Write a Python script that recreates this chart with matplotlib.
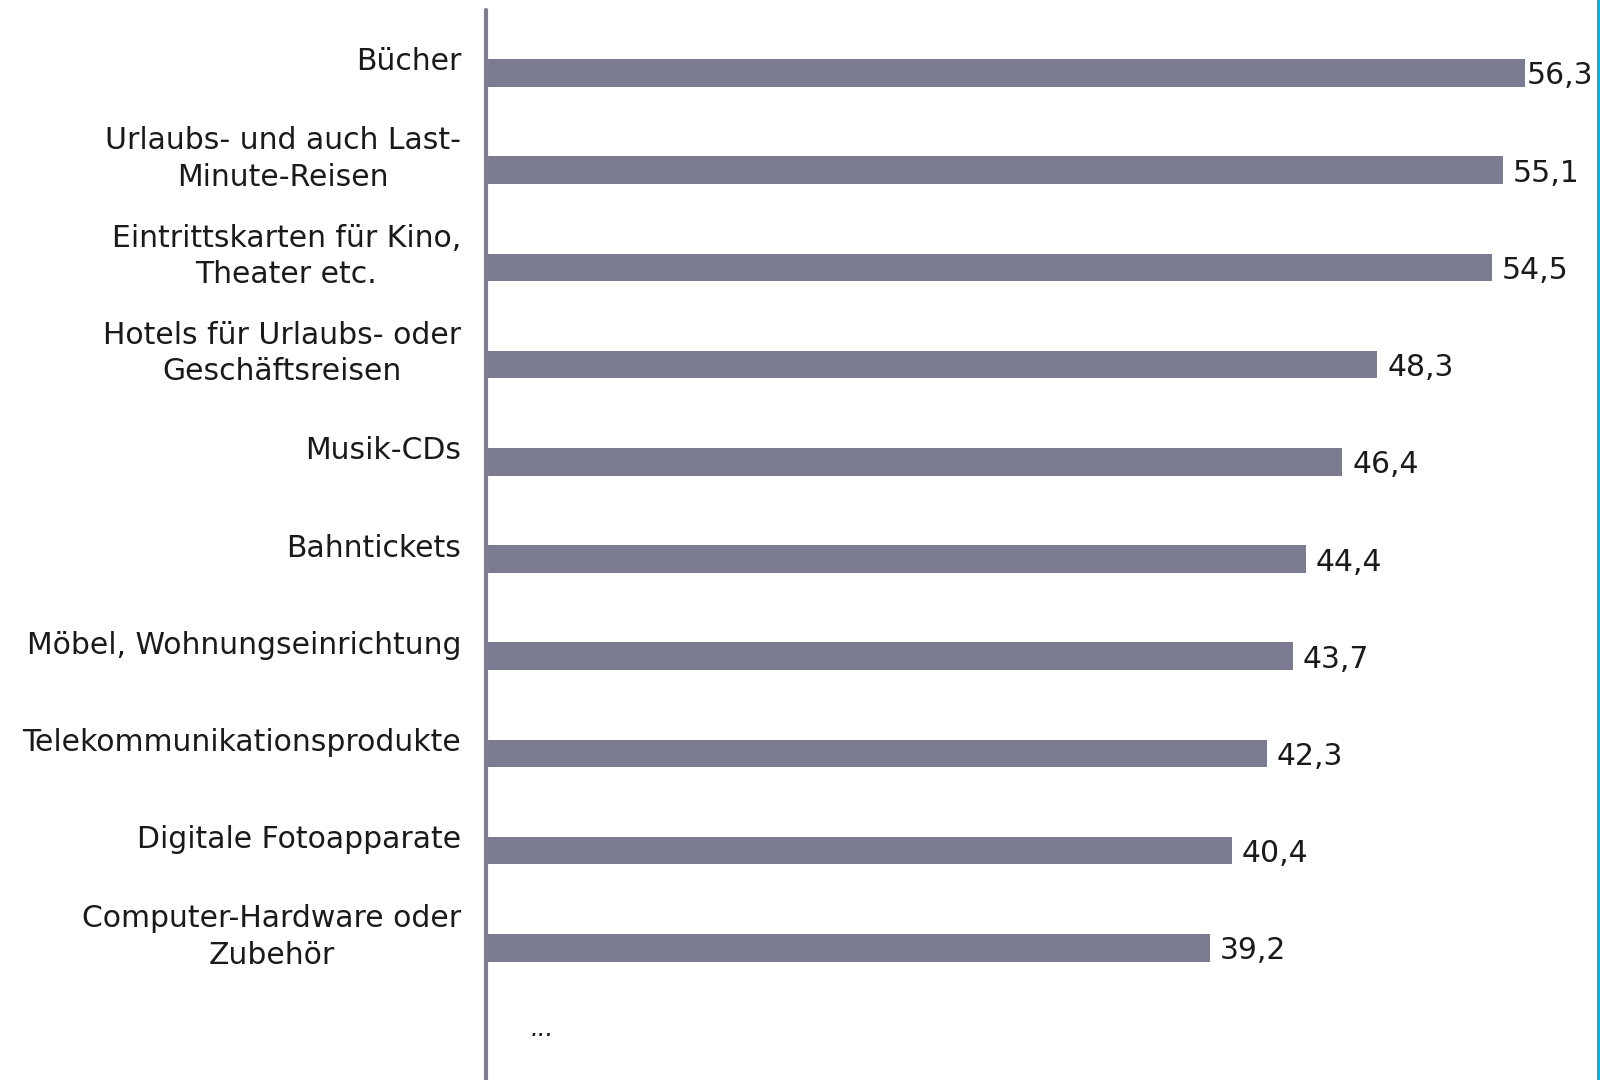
import matplotlib.pyplot as plt
from matplotlib.lines import Line2D
from matplotlib.transforms import offset_copy

categories = [
    "Bücher",
    "Urlaubs- und auch Last-\nMinute-Reisen",
    "Eintrittskarten für Kino,\nTheater etc.",
    "Hotels für Urlaubs- oder\nGeschäftsreisen",
    "Musik-CDs",
    "Bahntickets",
    "Möbel, Wohnungseinrichtung",
    "Telekommunikationsprodukte",
    "Digitale Fotoapparate",
    "Computer-Hardware oder\nZubehör",
]
values = [56.3, 55.1, 54.5, 48.3, 46.4, 44.4, 43.7, 42.3, 40.4, 39.2]
value_labels = ["56,3", "55,1", "54,5", "48,3", "46,4", "44,4", "43,7", "42,3", "40,4", "39,2"]
more_label = "..."

bar_color = "#7b7c91"
fs = 21.5

fig = plt.figure(figsize=(16, 10.8), dpi=100)
ax = fig.add_axes([486 / 1600, 0, 1114 / 1600, 1])

pos = list(range(len(categories)))
ax.barh(pos, values, height=0.283, color=bar_color, left=0.1)

ax.set_xlim(0, 60.48)
ax.set_ylim(10.36, -0.751)
ax.set_xticks([])
ax.set_yticks([])
for s in ["top", "right", "bottom"]:
    ax.spines[s].set_visible(False)
ax.spines["left"].set_color(bar_color)
ax.spines["left"].set_linewidth(3)
ax.spines["left"].set_capstyle("round")
ax.spines["left"].set_bounds(10.36, -0.648)

# category labels left of the axis, a bit above the bar
lab_tr = offset_copy(ax.get_yaxis_transform(), fig=fig, x=-25, y=11, units="dots")
for i, c in enumerate(categories):
    ax.text(0, i, c, transform=lab_tr, ha="right", va="center",
            multialignment="center", fontsize=fs, linespacing=1.33,
            color="#1a1a1a")

# value labels to the right of each bar
for i, (v, t) in enumerate(zip(values, value_labels)):
    dx = 2 if v == max(values) else 10
    tr = offset_copy(ax.transData, fig=fig, x=dx, y=-3, units="dots")
    ax.text(v + 0.1, i, t, transform=tr, ha="left", va="center",
            fontsize=fs, color="#1a1a1a")

ax.text(2.4, len(categories) - 0.16, more_label, ha="left", va="center",
        fontsize=fs - 4, style="italic", color="#1a1a1a")

fig.add_artist(Line2D([1598 / 1600, 1598 / 1600], [0, 1], color="#00b4e6",
                      linewidth=2.2, transform=fig.transFigure))

fig.savefig("out.png", dpi=100, facecolor="white")
